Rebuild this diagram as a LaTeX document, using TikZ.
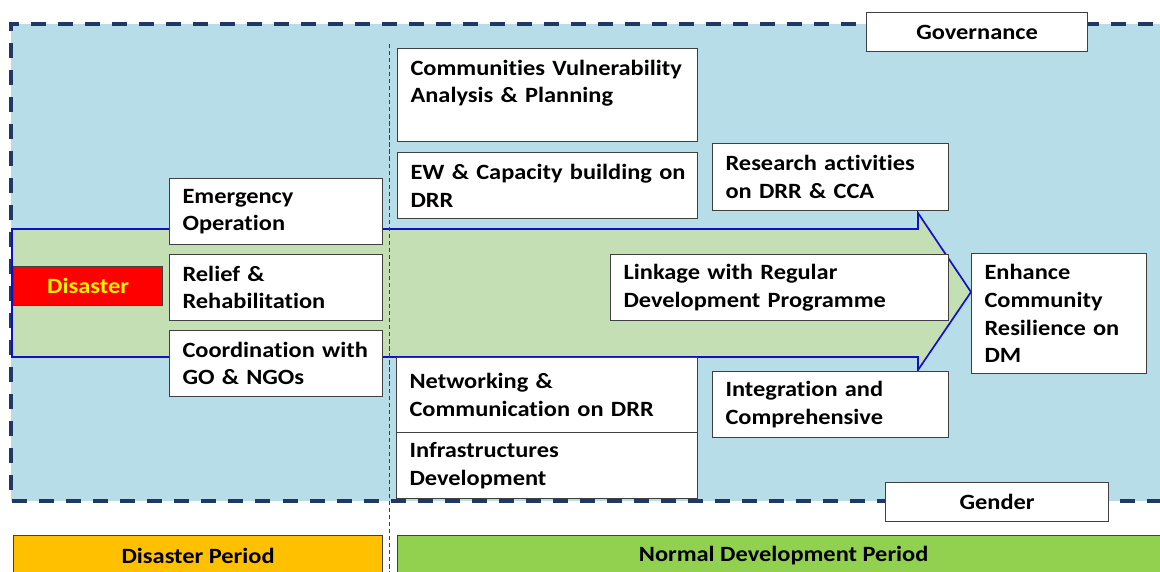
\documentclass[tikz,border=0pt]{standalone}
\usepackage{fontspec}
\setmainfont{Carlito}[FakeStretch=1.12,Ligatures=CommonOff]
\definecolor{govblue}{HTML}{B7DDE8}
\definecolor{dashnavy}{HTML}{1F3864}
\definecolor{flowgreen}{HTML}{C4DFB4}
\definecolor{flowblue}{HTML}{1010C8}
\definecolor{boxgray}{HTML}{404040}
\definecolor{perorange}{HTML}{FFC000}
\definecolor{pergreen}{HTML}{92D050}
\begin{document}
\begin{tikzpicture}[x=0.025cm,y=-0.025cm,
  every node/.style={font=\fontsize{15.5}{19.6}\selectfont\bfseries},
  box/.style={draw=boxgray,fill=white,line width=0.8pt,anchor=north west,
    align=left,inner xsep=0.325cm,inner ysep=0pt},
  tag/.style={draw=boxgray,fill=white,line width=0.8pt,anchor=north west,
    minimum height=0.975cm,inner sep=0pt},
  period/.style={draw=boxgray,line width=0.8pt,anchor=north west,
    minimum height=1.0cm,inner sep=0pt}]
\useasboundingbox (0,0) rectangle (1160,572);
\clip (0,0) rectangle (1160,572);

% Governance / gender frame
\fill[govblue] (11,24) rectangle (1180,501);
\draw[dashnavy,line width=2.8pt,dash pattern=on 0.375cm off 0.3cm] (1180,24) -- (11,24) -- (11,501) -- (1180,501);

% Big arrow from disaster to resilience
\draw[flowblue,fill=flowgreen,line width=1.2pt]
  (12,229) -- (918,229) -- (918,213) -- (971,292) -- (918,370) -- (918,357) -- (12,357) -- cycle;

% Split between the two periods
\draw[boxgray,line width=0.6pt,dash pattern=on 3pt off 2pt] (389,44) -- (389,572);

% Disaster period
\node[box,fill=red,text=yellow,align=center,minimum width=3.725cm,minimum height=0.975cm,inner xsep=0pt] (dis) at (13,266) {Disaster};
\node[box,minimum width=5.325cm,minimum height=1.65cm,text width=4.675cm] (emerg) at (169,178) {Emergency\\Operation};
\node[box,minimum width=5.325cm,minimum height=1.65cm,text width=4.675cm] (relief) at (169,254) {Relief \&\\Rehabilitation};
\node[box,minimum width=5.325cm,minimum height=1.65cm,text width=4.675cm] (coord) at (169,330) {Coordination with\\GO \& NGOs};

% Normal development period
\node[box,minimum width=7.5cm,minimum height=2.325cm,text width=6.85cm] (cva) at (397,48) {\mbox{Communities Vulnerability}\\Analysis \& Planning\\\mbox{}};
\node[box,minimum width=7.5cm,minimum height=1.65cm,text width=6.85cm] (ew) at (397,152) {\mbox{EW \& Capacity building on}\\DRR};
\node[box,minimum width=5.9cm,minimum height=1.675cm,text width=5.25cm] (res) at (712,143) {Research activities\\on DRR \& CCA};
\node[box,minimum width=8.45cm,minimum height=1.65cm,text width=7.8cm] (link) at (610,254) {Linkage with Regular\\Development Programme};
\node[box,minimum width=7.525cm,minimum height=1.875cm,text width=6.875cm] (net) at (396,357) {Networking \&\\Communication on DRR};
\node[box,minimum width=7.525cm,minimum height=1.65cm,text width=6.875cm] (infra) at (396,432) {Infrastructures\\Development};
\node[box,minimum width=5.9cm,minimum height=1.65cm,text width=5.25cm] (integ) at (712,371) {Integration and\\Comprehensive};
\node[box,minimum width=4.375cm,minimum height=3.0cm,text width=3.725cm] (resil) at (971,253) {Enhance\\Community\\Resilience on\\DM};

% Cross-cutting labels
\node[tag,minimum width=5.525cm] (gov) at (866,12) {Governance};
\node[tag,minimum width=5.575cm] (gen) at (885,482) {Gender};

% Period bars
\node[period,fill=perorange,minimum width=9.225cm] (dper) at (13,535) {Disaster Period};
\node[period,fill=pergreen,minimum width=19.3cm] (nper) at (397,535) {Normal Development Period};
\end{tikzpicture}
\end{document}
